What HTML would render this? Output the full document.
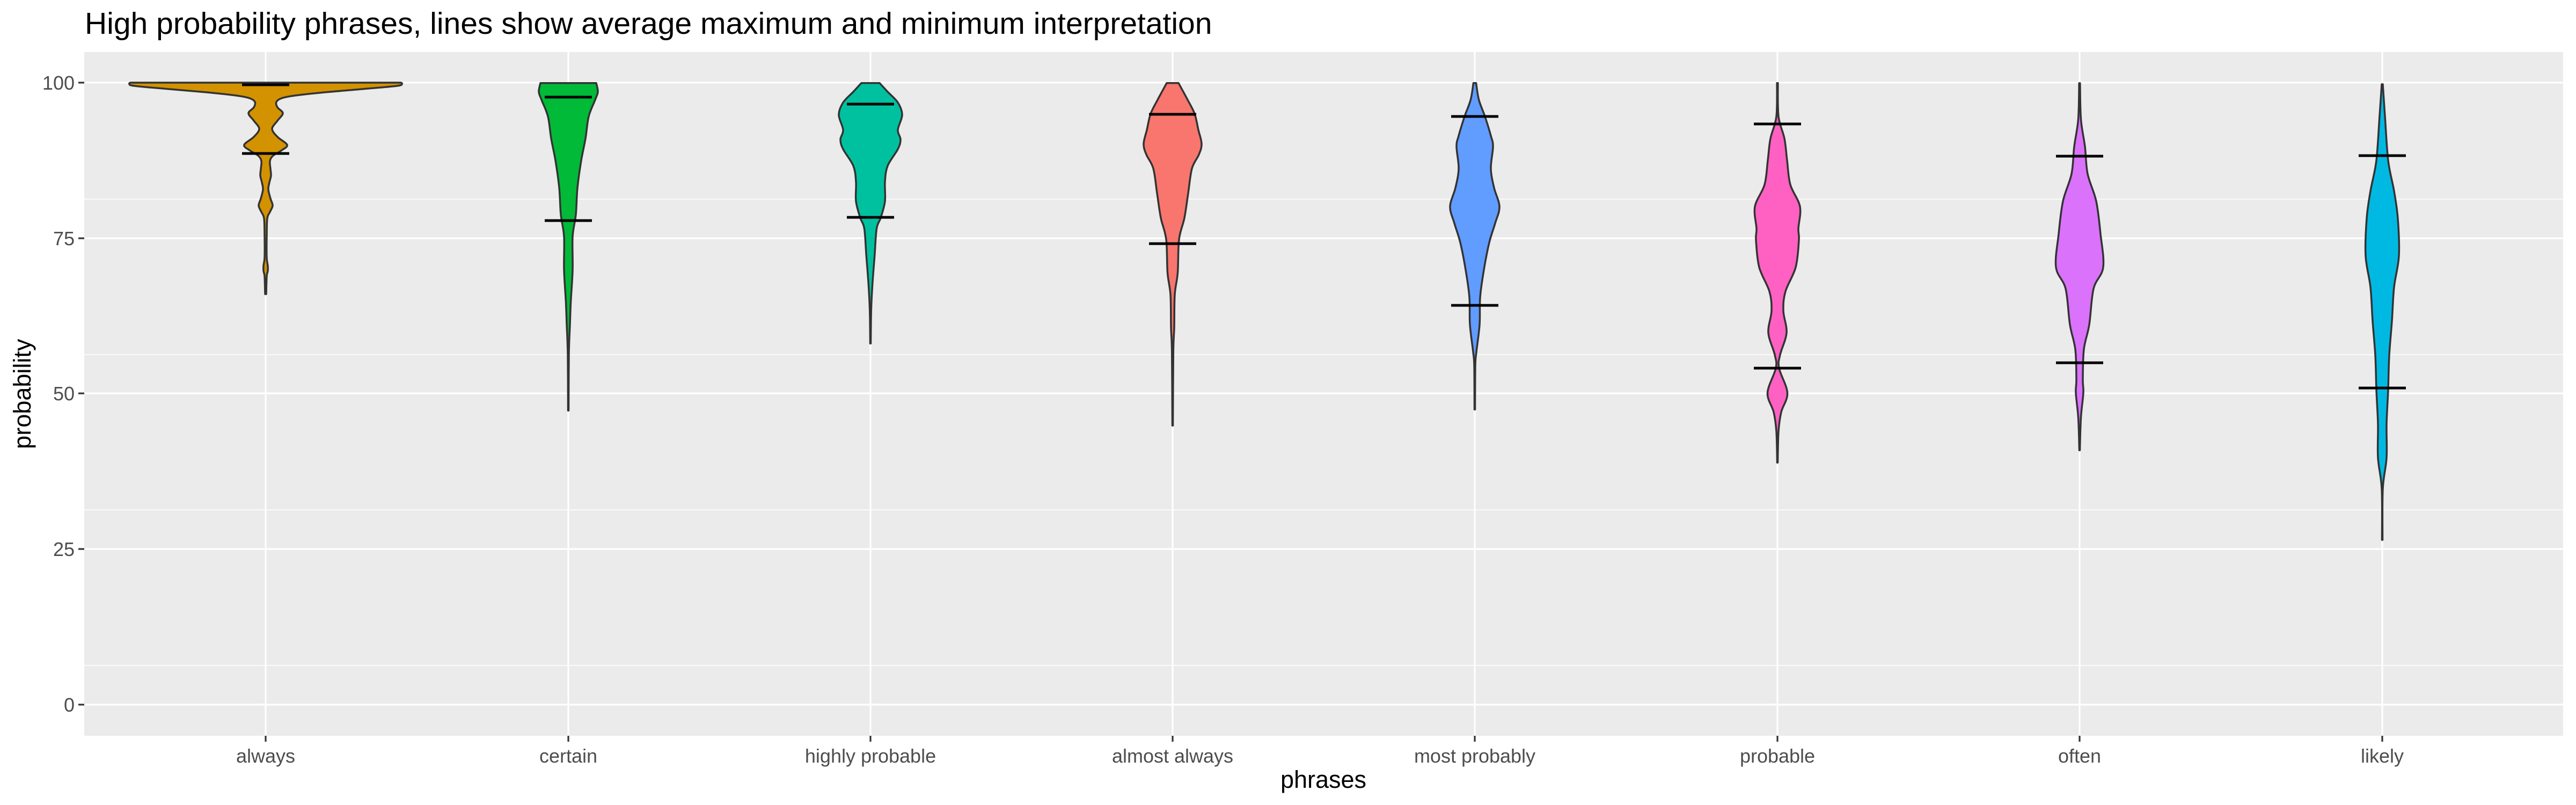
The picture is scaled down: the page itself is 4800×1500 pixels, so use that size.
<!DOCTYPE html>
<html><head><meta charset="utf-8"><style>
html,body{margin:0;padding:0;background:#fff;}
svg{display:block;font-family:"Liberation Sans",Arial,sans-serif;}
</style></head><body>
<svg id="s" width="4800" height="1500" viewBox="0 0 4800 1500" xmlns="http://www.w3.org/2000/svg">
<rect width="4800" height="1500" fill="#fff"/>
<text x="158" y="63" font-size="57" fill="#000">High probability phrases, lines show average maximum and minimum interpretation</text>
<rect x="157" y="97" width="4619" height="1274" fill="#EBEBEB"/>
<g stroke="#fff" stroke-width="1.6">
<line x1="157" x2="4776" y1="1240" y2="1240"/><line x1="157" x2="4776" y1="950" y2="950"/><line x1="157" x2="4776" y1="661" y2="661"/><line x1="157" x2="4776" y1="371" y2="371"/>
</g>
<g stroke="#fff" stroke-width="3.2">
<line x1="157" x2="4776" y1="1313" y2="1313"/><line x1="157" x2="4776" y1="1023" y2="1023"/><line x1="157" x2="4776" y1="733" y2="733"/><line x1="157" x2="4776" y1="444" y2="444"/><line x1="157" x2="4776" y1="154" y2="154"/>
<line x1="495" x2="495" y1="97" y2="1371"/><line x1="1059" x2="1059" y1="97" y2="1371"/><line x1="1622" x2="1622" y1="97" y2="1371"/><line x1="2185" x2="2185" y1="97" y2="1371"/><line x1="2748" x2="2748" y1="97" y2="1371"/><line x1="3312" x2="3312" y1="97" y2="1371"/><line x1="3875" x2="3875" y1="97" y2="1371"/><line x1="4439" x2="4439" y1="97" y2="1371"/>
</g>
<g id="v"></g>
<g stroke="#333" stroke-width="3.2">
<line x1="146" x2="157" y1="1313" y2="1313"/><line x1="146" x2="157" y1="1023" y2="1023"/><line x1="146" x2="157" y1="733" y2="733"/><line x1="146" x2="157" y1="444" y2="444"/><line x1="146" x2="157" y1="154" y2="154"/>
<line x1="495" x2="495" y1="1371" y2="1382"/><line x1="1059" x2="1059" y1="1371" y2="1382"/><line x1="1622" x2="1622" y1="1371" y2="1382"/><line x1="2185" x2="2185" y1="1371" y2="1382"/><line x1="2748" x2="2748" y1="1371" y2="1382"/><line x1="3312" x2="3312" y1="1371" y2="1382"/><line x1="3875" x2="3875" y1="1371" y2="1382"/><line x1="4439" x2="4439" y1="1371" y2="1382"/>
</g>
<g font-size="36" fill="#4D4D4D" text-anchor="end">
<text x="139" y="1326">0</text><text x="139" y="1036">25</text><text x="139" y="746">50</text><text x="139" y="457">75</text><text x="139" y="167">100</text>
</g>
<g font-size="36" fill="#4D4D4D" text-anchor="middle">
<text x="495" y="1421">always</text><text x="1059" y="1421">certain</text><text x="1622" y="1421">highly probable</text><text x="2185" y="1421">almost always</text><text x="2748" y="1421">most probably</text><text x="3312" y="1421">probable</text><text x="3875" y="1421">often</text><text x="4439" y="1421">likely</text>
</g>
<text x="2466" y="1468" font-size="45" text-anchor="middle" fill="#000">phrases</text>
<text transform="translate(57,734) rotate(-90)" font-size="45" text-anchor="middle" fill="#000">probability</text>
</svg>
<script>
var V=[
{c:495,f:"#D39200",mx:158,mn:286,p:[[154,252],[156,254],[160,245],[166,180],[172,110],[178,55],[183,30],[190,20],[200,22],[211,32],[225,22],[240,12],[255,22],[270,40],[280,30],[290,14],[300,8],[315,9],[327,10],[340,7],[353,5],[370,9],[383,13],[395,8],[407,3],[440,2],[480,2],[495,4],[505,4],[515,2],[548,1]]},
{c:1059,f:"#00BA38",mx:181,mn:411,p:[[154.7,52],[171,55],[186,50],[217,38],[258,32],[299,24],[350,17],[400,14],[441,8],[503,8],[564,4.5],[605,3],[661,1],[765,0.5]]},
{c:1622,f:"#00C19F",mx:194,mn:405,p:[[154.7,17],[171,32],[191,51],[214,59],[242,51],[260,56],[278,51],[309,32],[339,27],[375,27],[406,19],[426,11.5],[477,7.7],[528,3.8],[579,1.3],[640,0.5]]},
{c:2185,f:"#F8766D",mx:213,mn:454,p:[[154.7,11],[186,28],[212,41],[242,48],[268,54],[288,49],[314,36],[360,29],[406,22],[446,12],[508,9.5],[549,4],[610,3],[656,1.3],[793,0.5]]},
{c:2748,f:"#619CFF",mx:217,mn:569,p:[[154.7,2.5],[186,7.7],[217,19],[253,30],[273,34],[314,30],[350,36],[385,46],[416,38],[452,27],[503,17],[554,10],[605,9],[656,3],[681,1],[763,0.5]]},
{c:3312,f:"#FF61C3",mx:231,mn:686,p:[[154.7,0.8],[217,2],[258,13],[299,18],[344,24],[385,42],[426,39],[447,40],[498,34],[543,15],[579,11],[620,17],[661,5],[686,3],[732,18.5],[768,7],[804,2],[862,0.5]]},
{c:3875,f:"#DB72FB",mx:291,mn:676,p:[[155,0.8],[222,2.5],[273,10],[324,15],[375,31],[436,39],[498,44],[538,26],[605,18],[651,8],[707,6],[732,7],[778,2.5],[839,0.5]]},
{c:4439,f:"#00B9E3",mx:290,mn:723,p:[[157,1],[216,5],[299,11],[356,22],[407,29],[477,31],[535,22],[598,18],[662,13],[726,11],[790,8],[853,8],[911,1],[1006,0.5]]}
];
function smooth(pts){var d="M"+pts[0][0]+","+pts[0][1];for(var i=0;i<pts.length-1;i++){var p0=pts[i-1]||pts[i],p1=pts[i],p2=pts[i+1],p3=pts[i+2]||p2;var c1x=p1[0]+(p2[0]-p0[0])/6,c1y=p1[1]+(p2[1]-p0[1])/6,c2x=p2[0]-(p3[0]-p1[0])/6,c2y=p2[1]-(p3[1]-p1[1])/6;d+=" C"+c1x.toFixed(1)+","+c1y.toFixed(1)+" "+c2x.toFixed(1)+","+c2y.toFixed(1)+" "+p2[0].toFixed(1)+","+p2[1].toFixed(1);}return d;}
var g=document.getElementById("v"),h="";
V.forEach(function(v){var r=v.p.map(function(q){return[v.c+q[1],q[0]];});var l=v.p.slice().reverse().map(function(q){return[v.c-q[1],q[0]];});
var d=smooth(r)+" L"+l[0][0]+","+l[0][1]+smooth(l).replace(/^M[^ ]+/,"")+" Z";
h+='<path d="'+d+'" fill="'+v.f+'" stroke="#333" stroke-width="3.5" stroke-linejoin="round"/>';
h+='<line x1="'+(v.c-44)+'" x2="'+(v.c+44)+'" y1="'+v.mx+'" y2="'+v.mx+'" stroke="#000" stroke-width="5"/>';
h+='<line x1="'+(v.c-44)+'" x2="'+(v.c+44)+'" y1="'+v.mn+'" y2="'+v.mn+'" stroke="#000" stroke-width="5"/>';});
g.innerHTML=h;
</script>
</body></html>
